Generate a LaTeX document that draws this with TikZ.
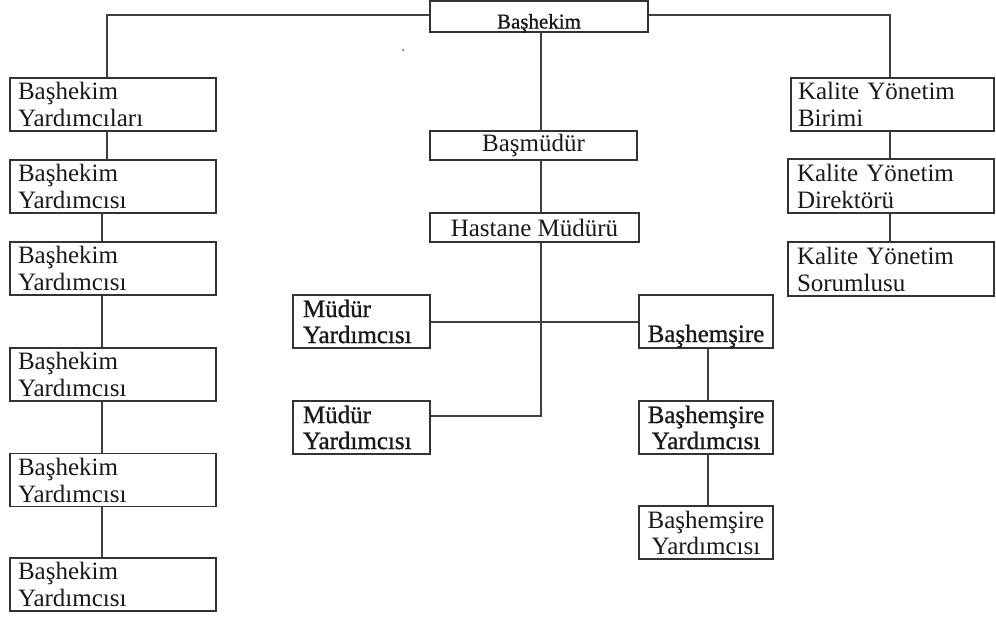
\documentclass[tikz,border=0pt]{standalone}
\usepackage{fontspec}
\setmainfont{Liberation Serif}
\newfontfamily\fbfont[FakeBold=1]{Liberation Serif}
\begin{document}
\begin{tikzpicture}[x=1pt,y=-1pt,
  box/.style={draw=black!80, line width=1.3pt, inner ysep=0pt, text=black!90,
    font=\fontsize{25}{27}\selectfont},
  lbox/.style={box, align=left, inner xsep=8pt, minimum height=53pt},
  cbox/.style={box, align=center, inner xsep=0pt},
  bbox/.style={cbox, font=\fbfont\fontsize{25}{27}\selectfont},
  conn/.style={draw=black!75, line width=1.3pt}]
\useasboundingbox (0,0) rectangle (996,616);

% top
\node[cbox, minimum width=218pt, minimum height=31pt, text height=24pt, text depth=0pt,
  font=\fbfont\fontsize{21}{24}\selectfont] (bh) at (539,16.5) {Başhekim};

% left column
\node[lbox, text width=190pt] (L1) at (113,104.5) {Başhekim\\Yardımcıları};
\node[lbox, text width=190pt] (L2) at (113,186.5) {Başhekim\\Yardımcısı};
\node[lbox, text width=190pt] (L3) at (113,268.5) {Başhekim\\Yardımcısı};
\node[lbox, text width=190pt] (L4) at (113,374.5) {Başhekim\\Yardımcısı};
\node[lbox, text width=190pt] (L5) at (113,480) {Başhekim\\Yardımcısı};
\node[lbox, text width=190pt] (L6) at (113,584.5) {Başhekim\\Yardımcısı};

% middle column
\node[cbox, minimum width=207pt, minimum height=29pt] (bm) at (533.5,145.5) {Başmüdür};
\node[cbox, minimum width=209pt, minimum height=29pt] (hm) at (534.5,227.5) {Hastane Müdürü};
\node[lbox, inner xsep=10pt, text width=117pt, font=\fbfont\fontsize{25}{26}\selectfont] (my1) at (361.5,321.5) {Müdür\\Yardımcısı};
\node[lbox, inner xsep=10pt, text width=117pt, font=\fbfont\fontsize{25}{26}\selectfont] (my2) at (361.5,427.5) {Müdür\\Yardımcısı};
\node[bbox, minimum width=134pt, minimum height=53pt, text height=41pt, text depth=0pt] (bhs) at (706,321.5) {Başhemşire};
\node[bbox, minimum width=134pt, minimum height=53pt, font=\fbfont\fontsize{25}{26}\selectfont] (bhy1) at (706,427.5) {Başhemşire\\Yardımcısı};
\node[cbox, minimum width=134pt, minimum height=53pt, font=\fontsize{25}{26}\selectfont] (bhy2) at (706,532.5) {Başhemşire\\Yardımcısı};

% right column
\node[lbox, inner xsep=7pt, text width=189pt] (K1) at (892.5,104.5) {Kalite Yönetim\\Birimi};
\node[lbox, inner xsep=9pt, text width=188pt, minimum height=54pt] (K2) at (891,186) {Kalite Yönetim\\Direktörü};
\node[lbox, inner xsep=9pt, text width=188pt, minimum height=54pt] (K3) at (891,269) {Kalite Yönetim\\Sorumlusu};

% connectors
\draw[conn] ([yshift=1.5pt]bh.west) -| ([xshift=-6pt]L1.north);
\draw[conn] ([xshift=-6pt]L1.south) -- ([xshift=-6pt]L2.north);
\draw[conn] ([xshift=-11pt]L2.south) -- ([xshift=-11pt]L3.north);
\draw[conn] ([xshift=-11pt]L3.south) -- ([xshift=-11pt]L4.north);
\draw[conn] ([xshift=-11pt]L4.south) -- ([xshift=-11pt]L5.north);
\draw[conn] ([xshift=-11pt]L5.south) -- ([xshift=-11pt]L6.north);

\draw[conn] ([yshift=1.5pt]bh.east) -| ([xshift=-2.5pt]K1.north);
\draw[conn] ([xshift=-2.5pt]K1.south) -- ([xshift=-1pt]K2.north);
\draw[conn] ([xshift=-1pt]K2.south) -- ([xshift=-1pt]K3.north);

\draw[conn] ([xshift=2pt]bh.south) -- ([xshift=7.5pt]bm.north);
\draw[conn] ([xshift=7.5pt]bm.south) -- ([xshift=6.5pt]hm.north);
\draw[conn] ([xshift=6.5pt]hm.south) |- ([yshift=11.5pt]my2.east);
\draw[conn] ([yshift=-0.5pt]my1.east) -- ([yshift=-0.5pt]bhs.west);
\draw[conn] ([xshift=2pt]bhs.south) -- ([xshift=2pt]bhy1.north);
\draw[conn] ([xshift=2pt]bhy1.south) -- ([xshift=2pt]bhy2.north);

% stray dot
\fill[black!70] (403,50) circle (1pt);
\end{tikzpicture}
\end{document}
